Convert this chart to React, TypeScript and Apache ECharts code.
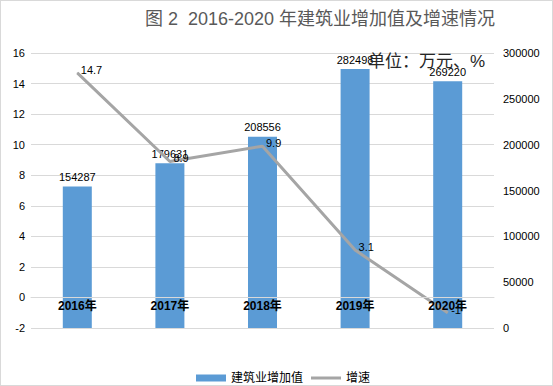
import React, { useEffect, useRef } from "react";
import * as echarts from "echarts";

const categories = ["2016年", "2017年", "2018年", "2019年", "2020年"];
const addedValue = [154287, 179631, 208556, 282498, 269220];
const growthRate = [14.7, 8.9, 9.9, 3.1, -1];
const leftTicks = { min: -2, max: 16, interval: 2 };
const rightTicks = { min: 0, max: 300000, interval: 50000 };
const titleText = "图 2  2016-2020 年建筑业增加值及增速情况";
const unitText = "单位：万元、%";
const seriesNames = ["建筑业增加值", "增速"];

const FONT = "'Liberation Sans', Arial, 'Noto Sans CJK SC', sans-serif";
const GRID = { left: 30, right: 58, top: 52, bottom: 57 };
const HEIGHT = 386;

export default function App() {
  const ref = useRef<HTMLDivElement>(null);
  useEffect(() => {
    document.body.style.margin = "0";
    const chart = echarts.init(ref.current!, undefined, { renderer: "svg" });
    const gridHeight = HEIGHT - GRID.top - GRID.bottom;
    const zeroOffset =
      -((0 - leftTicks.min) / (leftTicks.max - leftTicks.min)) * gridHeight;
    chart.setOption({
      animation: false,
      textStyle: { fontFamily: FONT },
      grid: { ...GRID, containLabel: false },
      graphic: [
        {
          type: "text",
          left: 144,
          top: 9,
          style: {
            text: titleText,
            fontSize: 18,
            fill: "#595959",
            fontFamily: FONT,
          },
        },
        {
          type: "text",
          left: 367,
          top: 52,
          z: 10,
          style: {
            text: unitText,
            fontSize: 17,
            fill: "#262626",
            fontFamily: FONT,
          },
        },
      ],
      legend: {
        left: 190,
        top: 366,
        itemWidth: 30,
        itemHeight: 7,
        itemGap: 8,
        data: [
          { name: seriesNames[0], icon: "rect" },
          { name: seriesNames[1], icon: "path://M0,0H30V3H0Z" },
        ],
        textStyle: { fontSize: 12, color: "#000", fontFamily: FONT },
      },
      xAxis: {
        type: "category",
        data: categories,
        z: 10,
        position: "bottom",
        offset: zeroOffset,
        axisLine: {
          show: true,
          onZero: false,
          lineStyle: { color: "#d9d9d9", width: 1 },
        },
        axisTick: { show: false },
        axisLabel: {
          margin: 3,
          fontSize: 12,
          fontWeight: "bold",
          color: "#000",
          fontFamily: FONT,
        },
      },
      yAxis: [
        {
          type: "value",
          min: leftTicks.min,
          max: leftTicks.max,
          interval: leftTicks.interval,
          axisLine: { show: false },
          axisTick: { show: false },
          splitLine: { lineStyle: { color: "#d9d9d9", width: 1 } },
          axisLabel: { fontSize: 11, color: "#000", margin: 6 },
        },
        {
          type: "value",
          min: rightTicks.min,
          max: rightTicks.max,
          interval: rightTicks.interval,
          axisLine: { show: false },
          axisTick: { show: false },
          splitLine: { show: false },
          axisLabel: {
            fontSize: 11,
            color: "#000",
            margin: 9,
            formatter: (v: number) => String(v),
          },
        },
      ],
      series: [
        {
          name: seriesNames[0],
          type: "bar",
          yAxisIndex: 1,
          data: addedValue,
          barWidth: 29,
          itemStyle: { color: "#5b9bd5" },
          label: {
            show: true,
            position: "top",
            fontSize: 11,
            color: "#000",
            distance: 4,
          },
        },
        {
          name: seriesNames[1],
          type: "line",
          yAxisIndex: 0,
          data: growthRate,
          symbol: "circle",
          symbolSize: 1,
          showSymbol: true,
          lineStyle: { color: "#a5a5a5", width: 3 },
          itemStyle: { color: "#a5a5a5" },
          z: 3,
          label: {
            show: true,
            position: "right",
            distance: 3,
            offset: [0, -3],
            fontSize: 11,
            color: "#000",
          },
        },
      ],
    });
    return () => chart.dispose();
  }, []);
  return (
    <div
      ref={ref}
      style={{
        width: 553,
        height: 386,
        boxSizing: "border-box",
        border: "1px solid #d9d9d9",
      }}
    />
  );
}
